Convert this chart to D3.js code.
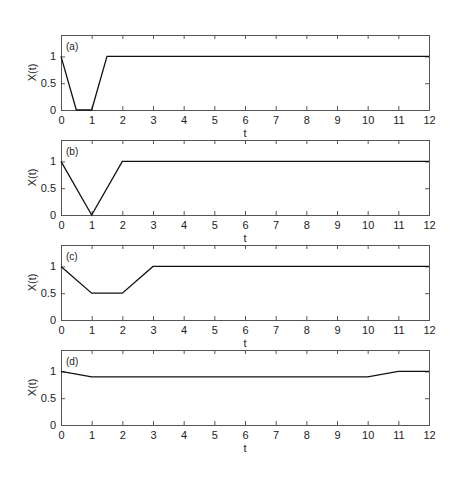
<!DOCTYPE html>
<html><head><meta charset="utf-8">
<script src="https://cdn.jsdelivr.net/npm/d3@7"></script>
<style>body{margin:0;background:#fff}svg{display:block}text{font-family:"Liberation Sans",Arial,sans-serif;fill:#222}</style>
</head><body>
<script>
const panelLabels = ["(a)", "(b)", "(c)", "(d)"];
const tA = [0, 0.5, 1, 1.5, 12];
const xA = [1, 0, 0, 1, 1];
const tB = [0, 1, 2, 12];
const xB = [1, 0, 1, 1];
const tC = [0, 1, 2, 3, 12];
const xC = [1, 0.5, 0.5, 1, 1];
const tD = [0, 1, 10, 11, 12];
const xD = [1, 0.9, 0.9, 1, 1];
const xTicks = [0,1,2,3,4,5,6,7,8,9,10,11,12];
const yTicks = [0, 0.5, 1];
const xDomain = [0, 12];
const yDomain = [0, 1.4];

const series = [[tA,xA],[tB,xB],[tC,xC],[tD,xD]];
const W = 474, H = 478;
const svg = d3.select("body").append("svg").attr("width", W).attr("height", H);
const left = 61, right = 429, panelH = 75;
const tops = [35, 140, 245, 350];
const x = d3.scaleLinear().domain(xDomain).range([left, right]);

series.forEach((s, i) => {
  const top = tops[i], bottom = top + panelH;
  const y = d3.scaleLinear().domain(yDomain).range([bottom, top]);
  const g = svg.append("g");
  const frame = "#555";
  // bottom axis
  const bx = g.append("g").attr("transform", `translate(0,${bottom})`)
    .call(d3.axisBottom(x).tickValues(xTicks).tickSize(-4).tickPadding(6).tickFormat(d3.format("d")));
  const tx = g.append("g").attr("transform", `translate(0,${top})`)
    .call(d3.axisTop(x).tickValues(xTicks).tickSize(-4).tickFormat(""));
  const ly = g.append("g").attr("transform", `translate(${left},0)`)
    .call(d3.axisLeft(y).tickValues(yTicks).tickSize(-4).tickPadding(5).tickFormat(d => d));
  const ry = g.append("g").attr("transform", `translate(${right},0)`)
    .call(d3.axisRight(y).tickValues(yTicks).tickSize(-4).tickFormat(""));
  [bx, tx, ly, ry].forEach(a => {
    a.selectAll("path").attr("stroke", frame);
    a.selectAll("line").attr("stroke", frame);
    a.selectAll("text").style("font-size", "11px").attr("fill", "#333");
  });
  g.append("text").attr("x", (left + right) / 2).attr("y", bottom + 27)
    .attr("text-anchor", "middle").style("font-size", "11px").text("t");
  g.append("text").attr("transform", `translate(36,${(top + bottom) / 2}) rotate(-90)`)
    .attr("text-anchor", "middle").style("font-size", "11px").text("X(t)");
  g.append("text").attr("x", left + 5).attr("y", top + 15).style("font-size", "10px").text(panelLabels[i]);
  const pts = s[0].map((t, k) => [t, s[1][k]]);
  g.append("path").datum(pts)
    .attr("fill", "none").attr("stroke", "#111").attr("stroke-width", 1.3)
    .attr("d", d3.line().x(d => x(d[0])).y(d => y(d[1])));
});
</script>
</body></html>
